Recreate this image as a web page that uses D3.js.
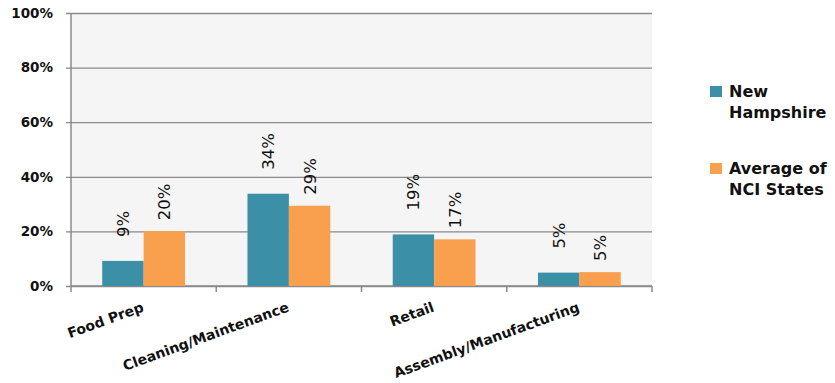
<!DOCTYPE html>
<html>
<head>
<meta charset="utf-8">
<script src="https://cdn.jsdelivr.net/npm/d3@7"></script>
<style>
  body { margin: 0; background: #fff; }
  text { font-family: "DejaVu Sans", sans-serif; }
</style>
</head>
<body>
<div id="chart"></div>
<script>
// data
var categories = ["Food Prep", "Cleaning/Maintenance", "Retail", "Assembly/Manufacturing"];
var seriesNames = ["New Hampshire", "Average of NCI States"];
var legendLines = [["New", "Hampshire"], ["Average of", "NCI States"]];
var newHampshire = [9.2, 33.8, 18.9, 4.9];
var nciAverage = [20.1, 29.4, 17.1, 5.1];
var yTicks = [0, 20, 40, 60, 80, 100];

var colors = ["#3b8fa6", "#f9a04f"];
var labelGap = [24, 11];

var W = 835, H = 383;
var margin = {top: 13, right: 183, bottom: 97, left: 71};
var width = W - margin.left - margin.right;
var height = H - margin.top - margin.bottom;

var svg = d3.select("#chart").append("svg")
    .attr("width", W)
    .attr("height", H);

var g = svg.append("g")
    .attr("transform", "translate(" + margin.left + "," + margin.top + ")");

var x = d3.scaleBand()
    .domain(categories)
    .range([0, width])
    .padding(0);

var xs = d3.scaleBand()
    .domain([0, 1])
    .range([x.bandwidth() * 0.215, x.bandwidth() * 0.785])
    .padding(0);

var y = d3.scaleLinear()
    .domain([0, 100])
    .range([height, 0]);

// plot background
g.append("rect")
  .attr("x", 0).attr("y", 0)
  .attr("width", width).attr("height", height)
  .attr("fill", "#f5f5f5");

// gridlines + left ticks
g.append("g")
  .call(d3.axisLeft(y).tickValues(yTicks).tickSize(-width - 5).tickFormat(""))
  .attr("transform", "translate(-5,0)")
  .call(function(a){
    a.select(".domain").remove();
    a.selectAll("line").attr("stroke", "#8a8a8a").attr("stroke-width", 1.3)
      .attr("x2", width + 5);
  });

// left axis line
g.append("line")
  .attr("x1", 0).attr("x2", 0)
  .attr("y1", 0).attr("y2", height)
  .attr("stroke", "#8a8a8a").attr("stroke-width", 1.5);

// y tick labels
g.selectAll(".ylab")
  .data(yTicks)
  .enter().append("text")
    .attr("x", -18)
    .attr("y", function(d){ return y(d); })
    .attr("dy", "0.36em")
    .attr("text-anchor", "end")
    .attr("font-size", 13.5)
    .attr("font-weight", "bold")
    .attr("fill", "#111")
    .text(function(d){ return d + "%"; });

// bottom axis line and ticks at category boundaries
g.append("line")
  .attr("x1", 0).attr("x2", width)
  .attr("y1", height).attr("y2", height)
  .attr("stroke", "#8a8a8a").attr("stroke-width", 1.5);

var bounds = categories.map(function(c){ return x(c); }).concat([width]);
g.selectAll(".xtick")
  .data(bounds)
  .enter().append("line")
    .attr("x1", function(d){ return d; })
    .attr("x2", function(d){ return d; })
    .attr("y1", height)
    .attr("y2", height + 6)
    .attr("stroke", "#8a8a8a").attr("stroke-width", 1.5);

// category labels
g.selectAll(".xlab")
  .data(categories)
  .enter().append("text")
    .attr("transform", function(d){
      return "translate(" + (x(d) + x.bandwidth() / 2 + 1) + "," + (height + 25) + ") rotate(-20)";
    })
    .attr("text-anchor", "end")
    .attr("font-size", 14)
    .attr("font-weight", "bold")
    .attr("fill", "#111")
    .text(function(d){ return d; });

// bars
var series = [newHampshire, nciAverage];
var fmt = function(v){ return d3.format(".0f")(v) + "%"; };

series.forEach(function(vals, si){
  var sg = g.append("g");
  sg.selectAll("rect")
    .data(vals)
    .enter().append("rect")
      .attr("x", function(d, i){ return x(categories[i]) + xs(si); })
      .attr("y", function(d){ return y(d); })
      .attr("width", xs.bandwidth())
      .attr("height", function(d){ return height - y(d); })
      .attr("fill", colors[si]);

  sg.selectAll("text")
    .data(vals)
    .enter().append("text")
      .attr("transform", function(d, i){
        var cx = x(categories[i]) + xs(si) + xs.bandwidth() / 2;
        return "translate(" + cx + "," + (y(d) - labelGap[si]) + ") rotate(-90)";
      })
      .attr("dy", "0.36em")
      .attr("text-anchor", "start")
      .attr("font-family", "'Open Sans', sans-serif")
      .attr("font-size", 16.5)
      .attr("font-weight", 500)
      .attr("fill", "#111")
      .text(fmt);
});

// legend
var legend = svg.append("g")
  .attr("transform", "translate(710,86)");

legendLines.forEach(function(lines, i){
  var lg = legend.append("g").attr("transform", "translate(0," + (i * 77) + ")");
  lg.append("rect")
    .attr("width", 12).attr("height", 11)
    .attr("fill", colors[i]);
  lg.selectAll("text")
    .data(lines)
    .enter().append("text")
      .attr("x", 19)
      .attr("y", function(d, j){ return 11 + j * 20.5; })
      .attr("font-size", 16)
      .attr("font-weight", "bold")
      .attr("fill", "#111")
      .text(function(d){ return d; });
});
</script>
</body>
</html>
